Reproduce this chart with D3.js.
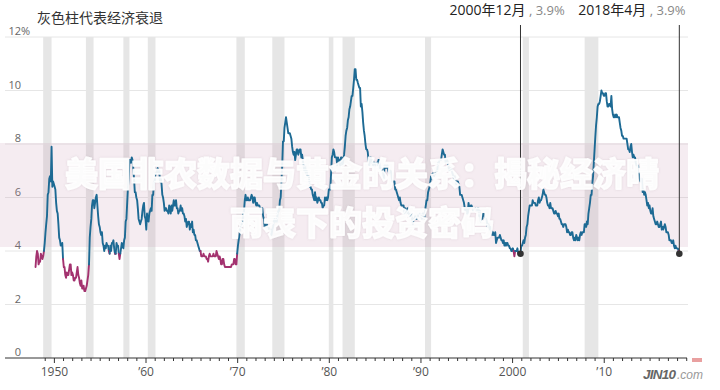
<!DOCTYPE html>
<html><head><meta charset="utf-8">
<script src="https://cdn.jsdelivr.net/npm/d3@7"></script>
<style>body{margin:0;background:#fff}svg{display:block}</style>
</head><body>
<svg id="c" width="720" height="390"></svg>
<script>
// Monthly US unemployment rate (%), starting January 1948
const rate1948_1949 = [
3.4,3.8,4.0,3.9,3.5,3.6,3.6,3.9,3.8,3.7,3.8,4.0,
4.3,4.7,5.0,5.3,6.1,6.2,6.7,6.8,6.6,7.9,6.4,6.6];
const rate1950s = [
6.5,6.4,6.3,5.8,5.5,5.4,5.0,4.5,4.4,4.2,4.2,4.3,
3.7,3.4,3.4,3.1,3.0,3.2,3.1,3.1,3.3,3.5,3.5,3.1,
3.2,3.1,2.9,2.9,3.0,3.0,3.2,3.4,3.1,3.0,2.8,2.7,
2.9,2.6,2.6,2.7,2.5,2.5,2.6,2.7,2.9,3.1,3.5,4.5,
4.9,5.2,5.7,5.9,5.9,5.6,5.8,6.0,6.1,5.7,5.3,5.0,
4.9,4.7,4.6,4.7,4.3,4.2,4.0,4.2,4.1,4.3,4.2,4.2,
4.0,3.9,4.2,4.0,4.3,4.3,4.4,4.1,3.9,3.9,4.3,4.2,
4.2,3.9,3.7,3.9,4.1,4.3,4.2,4.1,4.4,4.5,5.1,5.2,
5.8,6.4,6.7,7.4,7.4,7.3,7.5,7.4,7.1,6.7,6.2,6.2,
6.0,5.9,5.6,5.2,5.1,5.0,5.1,5.2,5.5,5.7,5.8,5.3];
const rate1960s = [
5.2,4.8,5.4,5.2,5.1,5.4,5.5,5.6,5.5,6.1,6.1,6.6,
6.6,6.9,6.9,7.0,7.1,6.9,7.0,6.6,6.7,6.5,6.1,6.0,
5.8,5.5,5.6,5.6,5.5,5.5,5.4,5.7,5.6,5.4,5.7,5.5,
5.7,5.9,5.7,5.7,5.9,5.6,5.6,5.4,5.5,5.5,5.7,5.5,
5.6,5.4,5.4,5.3,5.1,5.2,4.9,5.0,5.1,5.1,4.8,5.0,
4.9,5.1,4.7,4.8,4.6,4.6,4.4,4.4,4.3,4.2,4.1,4.0,
4.0,3.8,3.8,3.8,3.9,3.8,3.8,3.8,3.7,3.7,3.6,3.8,
3.9,3.8,3.8,3.8,3.8,3.9,3.8,3.8,3.8,4.0,3.9,3.8,
3.7,3.8,3.7,3.5,3.5,3.7,3.7,3.5,3.4,3.4,3.4,3.4,
3.4,3.4,3.4,3.4,3.4,3.5,3.5,3.5,3.7,3.7,3.5,3.5];
const rate1970s = [
3.9,4.2,4.4,4.6,4.8,4.9,5.0,5.1,5.4,5.5,5.9,6.1,
5.9,5.9,6.0,5.9,5.9,5.9,6.0,6.1,6.0,5.8,6.0,6.0,
5.8,5.7,5.8,5.7,5.7,5.7,5.6,5.6,5.5,5.6,5.3,5.2,
4.9,5.0,4.9,5.0,4.9,4.9,4.8,4.8,4.8,4.6,4.8,4.9,
5.1,5.2,5.1,5.1,5.1,5.4,5.5,5.5,5.9,6.0,6.6,7.2,
8.1,8.1,8.6,8.8,9.0,8.8,8.6,8.4,8.4,8.4,8.3,8.2,
7.9,7.7,7.6,7.7,7.4,7.6,7.8,7.8,7.6,7.7,7.8,7.8,
7.5,7.6,7.4,7.2,7.0,7.2,6.9,7.0,6.8,6.8,6.8,6.4,
6.4,6.3,6.3,6.1,6.0,5.9,6.2,5.9,6.0,5.8,5.9,6.0,
5.9,5.9,5.8,5.8,5.6,5.7,5.7,6.0,5.9,6.0,5.9,6.0];
const rate1980s = [
6.3,6.3,6.3,6.9,7.5,7.6,7.8,7.7,7.5,7.5,7.5,7.2,
7.5,7.4,7.4,7.2,7.5,7.5,7.2,7.4,7.6,7.9,8.3,8.5,
8.6,8.9,9.0,9.3,9.4,9.6,9.8,9.8,10.1,10.4,10.8,10.8,
10.4,10.4,10.3,10.2,10.1,10.1,9.4,9.5,9.2,8.8,8.5,8.3,
8.0,7.8,7.8,7.7,7.4,7.2,7.5,7.5,7.3,7.4,7.2,7.3,
7.3,7.2,7.2,7.3,7.2,7.4,7.4,7.1,7.1,7.1,7.0,7.0,
6.7,7.2,7.2,7.1,7.2,7.2,7.0,6.9,7.0,7.0,6.9,6.6,
6.6,6.6,6.6,6.3,6.3,6.2,6.1,6.0,5.9,6.0,5.8,5.7,
5.7,5.7,5.7,5.4,5.6,5.4,5.4,5.6,5.4,5.4,5.3,5.3,
5.4,5.2,5.0,5.2,5.2,5.3,5.2,5.2,5.3,5.3,5.4,5.4];
const rate1990s = [
5.4,5.3,5.2,5.4,5.4,5.2,5.5,5.7,5.9,5.9,6.2,6.3,
6.4,6.6,6.8,6.7,6.9,6.9,6.8,6.9,6.9,7.0,7.0,7.3,
7.3,7.4,7.4,7.4,7.6,7.8,7.7,7.6,7.6,7.3,7.4,7.4,
7.3,7.1,7.0,7.1,7.1,7.0,6.9,6.8,6.7,6.8,6.6,6.5,
6.6,6.6,6.5,6.4,6.1,6.1,6.1,6.0,5.9,5.8,5.6,5.5,
5.6,5.4,5.4,5.8,5.6,5.6,5.7,5.7,5.6,5.5,5.6,5.6,
5.6,5.5,5.5,5.6,5.6,5.3,5.5,5.1,5.2,5.2,5.4,5.4,
5.3,5.2,5.2,5.1,4.9,5.0,4.9,4.8,4.9,4.7,4.6,4.7,
4.6,4.6,4.7,4.3,4.4,4.5,4.5,4.5,4.6,4.5,4.4,4.4,
4.3,4.4,4.2,4.3,4.2,4.3,4.3,4.2,4.2,4.1,4.1,4.0];
const rate2000s = [
4.0,4.1,4.0,3.8,4.0,4.0,4.0,4.1,3.9,3.9,3.9,3.9,
4.2,4.2,4.3,4.4,4.3,4.5,4.6,4.9,5.0,5.3,5.5,5.7,
5.7,5.7,5.7,5.9,5.8,5.8,5.8,5.7,5.7,5.7,5.9,6.0,
5.8,5.9,5.9,6.0,6.1,6.3,6.2,6.1,6.1,6.0,5.8,5.7,
5.7,5.6,5.8,5.6,5.6,5.6,5.5,5.4,5.4,5.5,5.4,5.4,
5.3,5.4,5.2,5.2,5.1,5.0,5.0,4.9,5.0,5.0,5.0,4.9,
4.7,4.8,4.7,4.7,4.6,4.6,4.7,4.7,4.5,4.4,4.5,4.4,
4.6,4.5,4.4,4.5,4.4,4.6,4.7,4.6,4.7,4.7,4.7,5.0,
5.0,4.9,5.1,5.0,5.4,5.6,5.8,6.1,6.1,6.5,6.8,7.3,
7.8,8.3,8.7,9.0,9.4,9.5,9.5,9.6,9.8,10.0,9.9,9.9];
const rate2010s = [
9.8,9.8,9.9,9.9,9.6,9.4,9.4,9.5,9.5,9.4,9.8,9.3,
9.1,9.0,9.0,9.1,9.0,9.1,9.0,9.0,9.0,8.8,8.6,8.5,
8.3,8.3,8.2,8.2,8.2,8.2,8.2,8.0,7.8,7.8,7.7,7.9,
8.0,7.7,7.5,7.6,7.5,7.5,7.3,7.2,7.2,7.2,6.9,6.7,
6.6,6.7,6.7,6.2,6.3,6.1,6.2,6.1,5.9,5.7,5.8,5.6,
5.7,5.5,5.4,5.4,5.6,5.3,5.2,5.1,5.0,5.0,5.1,5.0,
4.9,4.9,5.0,5.1,4.8,4.9,4.8,4.9,5.0,4.9,4.7,4.7,
4.7,4.6,4.4,4.4,4.4,4.3,4.3,4.4,4.2,4.1,4.2,4.1,
4.1,4.1,4.0,3.9];

// Recessions [start year, start month(1-12), end year, end month]
const recessions = [
[1948,11,1949,10],[1953,7,1954,5],[1957,8,1958,4],[1960,4,1961,2],
[1969,12,1970,11],[1973,11,1975,3],[1980,1,1980,7],[1981,7,1982,11],
[1990,7,1991,3],[2001,3,2001,11],[2007,12,2009,6]];

const yTickValues = [0,2,4,6,8,10,12];
const xTickYears = d3.range(1949, 2020);
const xTickLabels = {1950:"1950",1960:"’60",1970:"’70",1980:"’80",1990:"’90",2000:"2000",2010:"’10"};
const threshold = 4;
const annotations = [
  {year:2000, month:12, value:3.9, label:"2000年12月", valueLabel:" , 3.9%"},
  {year:2018, month:4, value:3.9, label:"2018年4月", valueLabel:" , 3.9%"}
];
const chartTitle = "灰色柱代表经济衰退";
const watermark = ["美国非农数据与黄金的关系：揭秘经济晴", "雨表下的投资密码"];

const rates = [].concat(rate1948_1949, rate1950s, rate1960s, rate1970s, rate1980s, rate1990s, rate2000s, rate2010s);
const data = rates.map((v,i)=>({date:new Date(1948, i, 1), v}));

const svg = d3.select("#c");
const x = d3.scaleTime().domain([new Date(1944,8,1), new Date(2019,1,1)]).range([5,687]);
const y = d3.scaleLinear().domain([0,12]).range([358,37]);
const numFont = "'Open Sans','Noto Sans CJK SC',sans-serif";

const defs = svg.append("defs");
const f = defs.append("filter").attr("id","sh").attr("x","-5%").attr("y","-20%").attr("width","110%").attr("height","140%");
f.append("feDropShadow").attr("dx",0).attr("dy",0).attr("stdDeviation",1.2)
  .attr("flood-color","#8a7080").attr("flood-opacity",0.22);

// gridlines
svg.append("g").selectAll("line").data(yTickValues.filter(d=>d>0)).join("line")
  .attr("x1",5).attr("x2",688).attr("y1",d=>y(d)).attr("y2",d=>y(d))
  .attr("stroke","#e6e6e6").attr("stroke-width",1);

// recession bars
svg.append("g").selectAll("rect").data(recessions).join("rect")
  .attr("x",d=>x(new Date(d[0],d[1]-1,1)))
  .attr("width",d=>x(new Date(d[2],d[3]-1,1))-x(new Date(d[0],d[1]-1,1)))
  .attr("y",y(12)).attr("height",y(0)-y(12))
  .attr("fill","#e6e6e6");

// y labels
const yl = svg.append("g").attr("font-family",numFont).attr("font-size",11).attr("fill","#666");
yl.selectAll("text").data(yTickValues).join("text")
  .attr("x",21).attr("y",d=>y(d)-2).attr("text-anchor","end").text(d=>d);
yl.append("text").attr("x",21).attr("y",y(12)-2).text("%");

// x axis
const xAxis = d3.axisBottom(x)
  .tickValues(xTickYears.map(yr=>new Date(yr,0,1)))
  .tickSize(3)
  .tickFormat(d=>xTickLabels[d.getFullYear()]||"");
const gx = svg.append("g").attr("transform",`translate(0,${y(0)})`).call(xAxis);
gx.select(".domain").remove();
gx.selectAll(".tick line").attr("stroke","#333")
  .attr("y2",d=>d.getFullYear()%10===0?5:3);
gx.selectAll(".tick text").attr("y",9).attr("font-family",numFont).attr("font-size",12).attr("fill","#555");
gx.append("line").attr("x1",5).attr("x2",687).attr("stroke","#333").attr("stroke-width",1);

// title
svg.append("text").attr("x",37).attr("y",23).attr("font-family","'Noto Sans CJK SC',sans-serif")
  .attr("font-size",14).attr("fill","#333").text(chartTitle);

// watermark band (under the line)
svg.append("rect").attr("x",0).attr("y",143).attr("width",688).attr("height",104)
  .attr("fill","rgba(200,150,180,0.18)");

// line segments colored by level
const runs = [];
for (let i=0;i<data.length-1;i++){
  const low = (data[i].v + data[i+1].v)/2 < threshold;
  const last = runs[runs.length-1];
  if (last && last.low===low) last.pts.push(data[i+1]);
  else runs.push({low, pts:[data[i], data[i+1]]});
}
const line = d3.line().x(d=>x(d.date)).y(d=>y(d.v));
svg.append("g").selectAll("path").data(runs).join("path")
  .attr("d",d=>line(d.pts)).attr("fill","none")
  .attr("stroke",d=>d.low?"#a3326f":"#1d6a94")
  .attr("stroke-width",1.9).attr("stroke-linejoin","round").attr("stroke-linecap","round");

// annotations
const annOffsets = [71, 101];
const ag = svg.append("g");
annotations.forEach((a,i)=>{
  const ax = x(new Date(a.year, a.month-1, 1));
  ag.append("line").attr("x1",ax).attr("x2",ax).attr("y1",25).attr("y2",y(a.value))
    .attr("stroke","#333").attr("stroke-width",1);
  ag.append("circle").attr("cx",ax).attr("cy",y(a.value)).attr("r",3.3).attr("fill","#333");
  const t = ag.append("text").attr("x",ax-annOffsets[i]).attr("y",15).attr("font-family",numFont);
  t.append("tspan").attr("font-size",14).attr("fill","#222").text(a.label);
  t.append("tspan").attr("font-size",13).attr("fill","#888").text(a.valueLabel);
});

// watermark text
const wg = svg.append("g").attr("font-family","'Noto Sans CJK SC',sans-serif").attr("font-weight",900)
  .attr("font-size",33).attr("text-anchor","middle").attr("filter","url(#sh)")
  .attr("fill","rgba(255,255,255,0.9)").attr("stroke","rgba(255,255,255,0.9)").attr("stroke-width",1.6)
  .attr("stroke-linejoin","round");
wg.selectAll("text").data(watermark).join("text")
  .attr("x",362).attr("y",(d,i)=>i===0?186:235).text(d=>d);

// logo
const lg = svg.append("g").attr("font-family","'Liberation Sans',sans-serif").attr("font-style","italic");
lg.append("text").attr("x",643).attr("y",379).attr("font-size",13.5).attr("font-weight",700).attr("fill","#666")
  .attr("textLength",33).text("JIN10");
lg.append("text").attr("x",677).attr("y",379).attr("font-size",12).attr("fill","#999").text(".com");
lg.append("rect").attr("x",692).attr("y",358).attr("width",10).attr("height",4).attr("fill","#e9a0a0");
</script>
</body></html>
